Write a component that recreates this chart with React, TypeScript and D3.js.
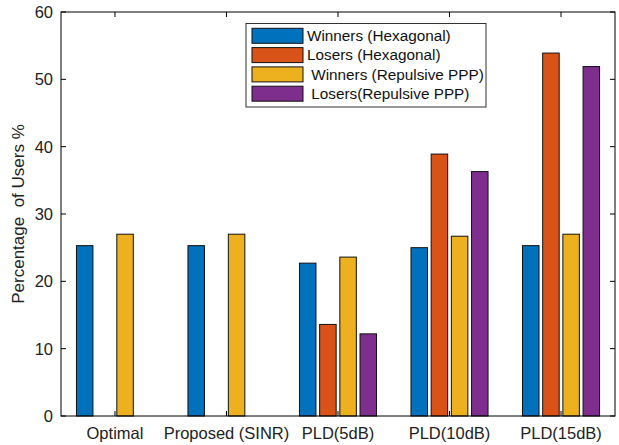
import * as d3 from "d3";

const categories = ["Optimal", "Proposed (SINR)", "PLD(5dB)", "PLD(10dB)", "PLD(15dB)"];
const winnersHex = [25.3, 25.3, 22.7, 25.0, 25.3];
const losersHex = [0, 0, 13.6, 38.9, 53.9];
const winnersPPP = [27.0, 27.0, 23.6, 26.7, 27.0];
const losersPPP = [0, 0, 12.2, 36.3, 51.9];
const seriesNames = ["Winners (Hexagonal)", "Losers (Hexagonal)", " Winners (Repulsive PPP)", " Losers(Repulsive PPP)"];
const yTicks = [0, 10, 20, 30, 40, 50, 60];

const colors = ["#0072BD", "#D95319", "#EDB120", "#7E2F8E"];
const series = [winnersHex, losersHex, winnersPPP, losersPPP];

const W = 619;
const H = 445;
const left = 61;
const right = 615;
const top = 12;
const bottom = 416;
const font = "'Liberation Sans', Arial, sans-serif";

const App = () => {
  const x = d3.scaleLinear().domain([0.516, 5.484]).range([left, right]);
  const y = d3.scaleLinear().domain([0, 60]).range([bottom, top]);
  const step = 0.181; // offset between bars within a group
  const barW = 0.148;

  return (
    <svg width={W} height={H} style={{ position: "absolute", left: 0, top: 0, background: "#fff" }}>
      {/* bars */}
      {series.map((vals, s) =>
        vals.map((v, i) => {
          if (v === 0) return null;
          const cx = x(i + 1 + (s - 1.5) * step);
          const w = x(barW) - x(0);
          return (
            <rect
              key={`${s}-${i}`}
              x={cx - w / 2}
              y={y(v)}
              width={w}
              height={y(0) - y(v)}
              fill={colors[s]}
              stroke="#111"
              strokeWidth={1}
            />
          );
        })
      )}

      {/* box */}
      <rect x={left} y={top} width={right - left} height={bottom - top} fill="none" stroke="#000" strokeWidth={1} />

      {/* y ticks */}
      {yTicks.map((t) => (
        <g key={t}>
          <line x1={left} x2={left + 5} y1={y(t)} y2={y(t)} stroke="#000" />
          <line x1={right} x2={right - 5} y1={y(t)} y2={y(t)} stroke="#000" />
          <text x={53} y={y(t) + 6} textAnchor="end" fontFamily={font} fontSize={16.5} fill="#222">
            {t}
          </text>
        </g>
      ))}

      {/* x ticks and labels */}
      {categories.map((c, i) => (
        <g key={c}>
          <line x1={x(i + 1)} x2={x(i + 1)} y1={bottom} y2={bottom - 5} stroke="#000" />
          <line x1={x(i + 1)} x2={x(i + 1)} y1={top} y2={top + 5} stroke="#000" />
          <text x={x(i + 1)} y={439} textAnchor="middle" fontFamily={font} fontSize={16.5} fill="#222">
            {c}
          </text>
        </g>
      ))}

      {/* y label */}
      <text
        transform={`translate(24, ${(top + bottom) / 2}) rotate(-90)`}
        textAnchor="middle"
        fontFamily={font}
        fontSize={17}
        fill="#222"
        style={{ whiteSpace: "pre" }}
      >
        {"Percentage  of Users %"}
      </text>

      {/* legend */}
      <g>
        <rect x={246} y={23.5} width={240} height={83.5} fill="#fff" stroke="#333" strokeWidth={1} />
        {seriesNames.map((name, s) => {
          const cy = 35.8 + s * 19.3;
          return (
            <g key={name}>
              <rect x={252} y={cy - 7.5} width={51} height={15} fill={colors[s]} stroke="#111" strokeWidth={1} />
              <text x={307} y={cy + 5.2} fontFamily={font} fontSize={15.3} fill="#111" style={{ whiteSpace: "pre" }}>
                {name}
              </text>
            </g>
          );
        })}
      </g>
    </svg>
  );
};

export default App;
